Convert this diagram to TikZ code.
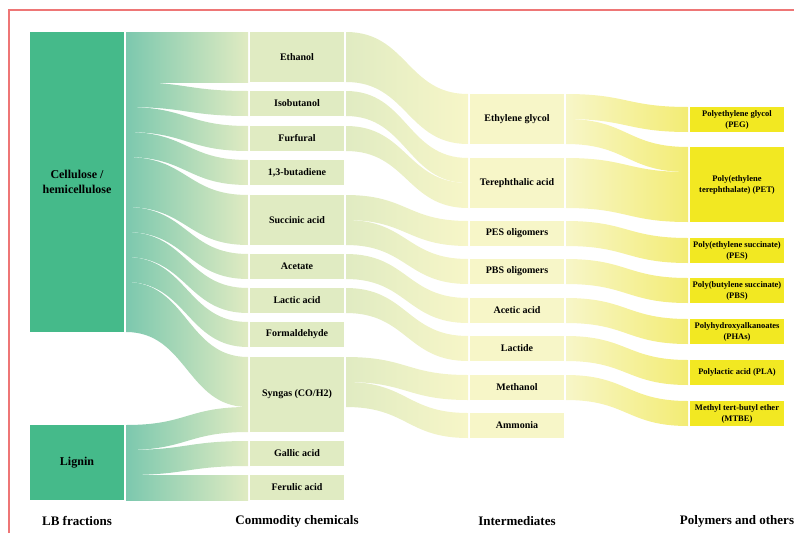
\documentclass[tikz,border=0pt]{standalone}
\usepackage{fontspec}
\setmainfont{Liberation Serif}
\usetikzlibrary{calc}
\definecolor{lbgreen}{HTML}{45BA8A}
\definecolor{tealflow}{HTML}{7CC8AE}
\definecolor{chemgreen}{HTML}{E0EBC2}
\definecolor{interyellow}{HTML}{F7F6C8}
\definecolor{polyflow}{HTML}{F3EC74}
\definecolor{polyyellow}{HTML}{F2E822}
\definecolor{framered}{HTML}{EE7676}

\newcommand{\flowband}[6]{%
  \shade[#6] ($(#1.north east)+(2,#2)$) .. controls +(61,0) and +(-61,0) .. ($(#3.north west)+(-2,#4)$)
    -- ++(0,#5) .. controls +(-61,0) and +(61,0) .. ($(#1.north east)+(2,#2+#5)$) -- cycle;}

\begin{document}
\begin{tikzpicture}[x=1pt,y=-1pt,
   every node/.style={inner sep=0pt,outer sep=0pt,align=center},
   fraction/.style={fill=lbgreen,anchor=north west,minimum width=94pt,font=\bfseries\fontsize{12}{15}\selectfont},
   commodity/.style={fill=chemgreen,anchor=north west,minimum width=94pt,minimum height=25pt,font=\bfseries\fontsize{10}{12}\selectfont},
   intermediate/.style={commodity,fill=interyellow},
   polymer/.style={fill=polyyellow,anchor=north west,minimum width=94pt,minimum height=25pt,font=\bfseries\fontsize{8.5}{11}\selectfont},
   heading/.style={font=\bfseries\fontsize{13}{15}\selectfont},
   stageone/.style={left color=tealflow,right color=chemgreen},
   stagetwo/.style={left color=chemgreen,right color=interyellow},
   stagethree/.style={left color=interyellow,right color=polyflow}]
\useasboundingbox (0,0) rectangle (794,533);
\draw[framered,line width=1.2pt] (9,533) -- (9,10) -- (794,10);

\node[fraction,minimum height=300pt] (cellulose) at (30,32) {Cellulose /\\hemicellulose};
\node[fraction,minimum height=75pt] (lignin) at (30,425) {Lignin};

\node[commodity,minimum height=50pt] (ethanol) at (250,32) {Ethanol};
\node[commodity] (isobutanol) at (250,91) {Isobutanol};
\node[commodity] (furfural) at (250,126) {Furfural};
\node[commodity] (butadiene) at (250,160) {1,3-butadiene};
\node[commodity,minimum height=50pt] (succinic) at (250,195) {Succinic acid};
\node[commodity] (acetate) at (250,254) {Acetate};
\node[commodity] (lactic) at (250,288) {Lactic acid};
\node[commodity] (formaldehyde) at (250,322) {Formaldehyde};
\node[commodity,minimum height=75pt] (syngas) at (250,357) {Syngas (CO/H2)};
\node[commodity] (gallic) at (250,441) {Gallic acid};
\node[commodity] (ferulic) at (250,475) {Ferulic acid};

\node[intermediate,minimum height=50pt] (glycol) at (470,94) {Ethylene glycol};
\node[intermediate,minimum height=50pt] (terephthalic) at (470,158) {Terephthalic acid};
\node[intermediate] (pesolig) at (470,221) {PES oligomers};
\node[intermediate] (pbsolig) at (470,259) {PBS oligomers};
\node[intermediate] (acetic) at (470,298) {Acetic acid};
\node[intermediate] (lactide) at (470,336) {Lactide};
\node[intermediate] (methanol) at (470,375) {Methanol};
\node[intermediate] (ammonia) at (470,413) {Ammonia};

\node[polymer] (peg) at (690,107) {Polyethylene glycol\\(PEG)};
\node[polymer,minimum height=75pt] (pet) at (690,147) {Poly(ethylene\\terephthalate) (PET)};
\node[polymer] (pes) at (690,238) {Poly(ethylene succinate)\\(PES)};
\node[polymer] (pbs) at (690,278) {Poly(butylene succinate)\\(PBS)};
\node[polymer] (phas) at (690,319) {Polyhydroxyalkanoates\\(PHAs)};
\node[polymer] (pla) at (690,360) {Polylactic acid (PLA)};
\node[polymer] (mtbe) at (690,401) {Methyl tert-butyl ether\\(MTBE)};

\flowband{cellulose}{0}{ethanol}{0}{50}{stageone}
\flowband{cellulose}{50}{isobutanol}{0}{25}{stageone}
\flowband{cellulose}{75}{furfural}{0}{25}{stageone}
\flowband{cellulose}{100}{butadiene}{0}{25}{stageone}
\flowband{cellulose}{125}{succinic}{0}{50}{stageone}
\flowband{cellulose}{175}{acetate}{0}{25}{stageone}
\flowband{cellulose}{200}{lactic}{0}{25}{stageone}
\flowband{cellulose}{225}{formaldehyde}{0}{25}{stageone}
\flowband{cellulose}{250}{syngas}{0}{50}{stageone}
\flowband{lignin}{0}{syngas}{50}{25}{stageone}
\flowband{lignin}{25}{gallic}{0}{25}{stageone}
\flowband{lignin}{50}{ferulic}{0}{25}{stageone}

\flowband{ethanol}{0}{glycol}{0}{50}{stagetwo}
\flowband{isobutanol}{0}{terephthalic}{0}{25}{stagetwo}
\flowband{furfural}{0}{terephthalic}{25}{25}{stagetwo}
\flowband{succinic}{0}{pesolig}{0}{25}{stagetwo}
\flowband{succinic}{25}{pbsolig}{0}{25}{stagetwo}
\flowband{acetate}{0}{acetic}{0}{25}{stagetwo}
\flowband{lactic}{0}{lactide}{0}{25}{stagetwo}
\flowband{syngas}{0}{methanol}{0}{25}{stagetwo}
\flowband{syngas}{25}{ammonia}{0}{25}{stagetwo}

\flowband{glycol}{0}{peg}{0}{25}{stagethree}
\flowband{glycol}{25}{pet}{0}{25}{stagethree}
\flowband{terephthalic}{0}{pet}{25}{50}{stagethree}
\flowband{pesolig}{0}{pes}{0}{25}{stagethree}
\flowband{pbsolig}{0}{pbs}{0}{25}{stagethree}
\flowband{acetic}{0}{phas}{0}{25}{stagethree}
\flowband{lactide}{0}{pla}{0}{25}{stagethree}
\flowband{methanol}{0}{mtbe}{0}{25}{stagethree}

\node[heading] (lbhead) at (77,521) {LB fractions};
\node[heading] (commodityhead) at (297,521) {Commodity chemicals};
\node[heading] (interhead) at (517,521) {Intermediates};
\node[heading] (polyhead) at (737,521) {Polymers and others};
\end{tikzpicture}
\end{document}
